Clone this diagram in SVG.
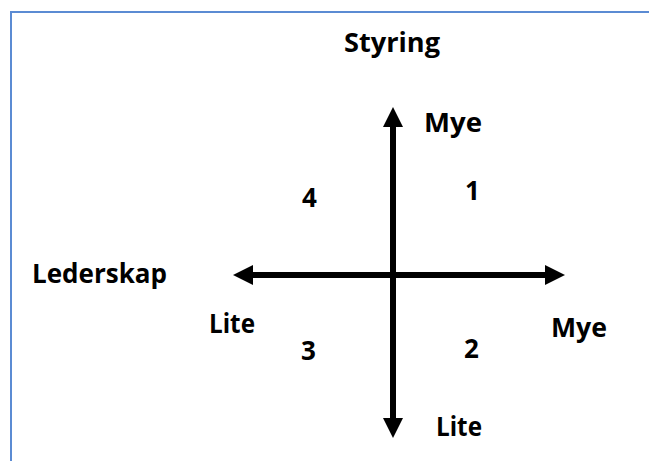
<svg xmlns="http://www.w3.org/2000/svg" width="649" height="461" viewBox="0 0 649 461">
  <style>
    .t { font-family: "Open Sans", "Liberation Sans", sans-serif; font-weight: bold; font-size: 26px; fill: #000; }
    .ax { stroke: #000; stroke-width: 6; fill: none; marker-start: url(#ah); marker-end: url(#ah); }
  </style>
  <defs>
    <marker id="ah" viewBox="0 0 20 20" markerWidth="20" markerHeight="20" markerUnits="userSpaceOnUse" refX="0" refY="10" orient="auto-start-reverse">
      <path d="M0,0 L20,10 L0,20 z" fill="#000"/>
    </marker>
  </defs>
  <rect x="0" y="0" width="649" height="461" fill="#fff"/>
  <path id="frame" d="M11,461 V12 H649" fill="none" stroke="#5B8BD3" stroke-width="2"/>
  <g id="connectors">
    <line class="ax" x1="253" y1="275" x2="545" y2="275"/>
    <line class="ax" x1="393" y1="127" x2="393" y2="418"/>
  </g>
  <g id="styring"><text class="t" x="344" y="52" textLength="96" lengthAdjust="spacingAndGlyphs">Styring</text></g>
  <g id="mye-top"><text class="t" x="424" y="132" textLength="58" lengthAdjust="spacingAndGlyphs">Mye</text></g>
  <g id="q4"><text class="t" x="302" y="207">4</text></g>
  <g id="q1"><text class="t" x="465" y="200">1</text></g>
  <g id="lederskap"><text class="t" x="32" y="283" textLength="135" lengthAdjust="spacingAndGlyphs">Lederskap</text></g>
  <g id="lite-left"><text class="t" x="209" y="333" textLength="46" lengthAdjust="spacingAndGlyphs">Lite</text></g>
  <g id="q3"><text class="t" x="301" y="360">3</text></g>
  <g id="q2"><text class="t" x="464" y="358">2</text></g>
  <g id="mye-right"><text class="t" x="551" y="337" textLength="56" lengthAdjust="spacingAndGlyphs">Mye</text></g>
  <g id="lite-bottom"><text class="t" x="436" y="436" textLength="46" lengthAdjust="spacingAndGlyphs">Lite</text></g>
</svg>
